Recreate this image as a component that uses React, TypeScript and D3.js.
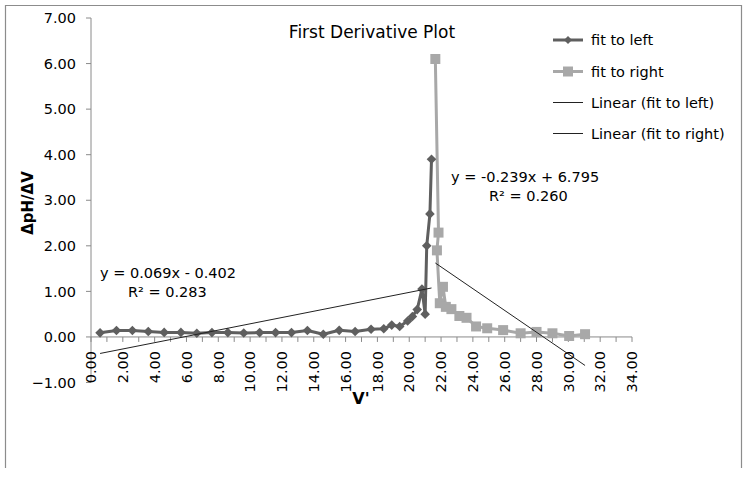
import React from 'react';
import * as d3 from 'd3';

// ---- data ----
const leftX = [0.57, 1.6, 2.6, 3.6, 4.6, 5.65, 6.65, 7.6, 8.6, 9.6, 10.6, 11.6, 12.6, 13.6, 14.6, 15.6, 16.6, 17.6, 18.4, 18.9, 19.4, 19.9, 20.2, 20.5, 20.8, 21.0, 21.1, 21.3, 21.4];
const leftY = [0.09, 0.14, 0.14, 0.12, 0.1, 0.1, 0.08, 0.095, 0.095, 0.088, 0.095, 0.095, 0.095, 0.14, 0.06, 0.145, 0.12, 0.17, 0.18, 0.26, 0.23, 0.35, 0.45, 0.6, 1.05, 0.5, 2.0, 2.7, 3.9];
const rightX = [21.64, 21.84, 21.74, 21.92, 22.12, 22.3, 22.65, 23.15, 23.6, 24.2, 24.9, 25.9, 27.0, 28.0, 29.0, 30.05, 31.05];
const rightY = [6.1, 2.29, 1.9, 0.74, 1.1, 0.66, 0.61, 0.46, 0.42, 0.23, 0.19, 0.15, 0.08, 0.11, 0.08, 0.02, 0.06];
const leftTrend = [0.069, -0.402]; // slope, intercept
const rightTrend = [-0.239, 6.795];
const xTickValues = [0, 2, 4, 6, 8, 10, 12, 14, 16, 18, 20, 22, 24, 26, 28, 30, 32, 34];
const xMinorValues = d3.range(0, 35, 1);
const yTickValues = [-1, 0, 1, 2, 3, 4, 5, 6, 7];
const legendLabels = ['fit to left', 'fit to right', 'Linear (fit to left)', 'Linear (fit to right)'];
const leftEqLabels = ['y = 0.069x - 0.402', 'R² = 0.283'];
const rightEqLabels = ['y = -0.239x + 6.795', 'R² = 0.260'];

const W = 748;
const H = 477;
const FONT = "'DejaVu Sans', sans-serif";
const DARK = '#5f5f5f';
const LIGHT = '#a8a8a8';
const AXIS = '#8a8a8a';

export default function App() {
  const x = d3.scaleLinear().domain([0, 34]).range([91, 632]);
  const y = d3.scaleLinear().domain([-1, 7]).range([382.5, 18]);
  const fmt = d3.format('.2f');

  const leftPts = leftX.map((v, i) => [v, leftY[i]] as [number, number]);
  const rightPts = rightX.map((v, i) => [v, rightY[i]] as [number, number]);
  const line = d3.line<[number, number]>().x(d => x(d[0])).y(d => y(d[1]));

  const lx0 = d3.min(leftX)!, lx1 = d3.max(leftX)!;
  const rx0 = d3.min(rightX)!, rx1 = d3.max(rightX)!;
  const leftTrendPts: [number, number][] = [lx0, lx1].map(v => [v, leftTrend[0] * v + leftTrend[1]]);
  const rightTrendPts: [number, number][] = [rx0, rx1].map(v => [v, rightTrend[0] * v + rightTrend[1]]);

  const diamond = (r: number) => `M0,${-r}L${r},0L0,${r}L${-r},0Z`;
  const square = (r: number) => `M${-r},${-r}H${r}V${r}H${-r}Z`;

  const legendY = [40, 71.5, 102.5, 133.5];
  const lgX0 = 553, lgX1 = 583;

  return (
    <svg width={W} height={H} style={{ position: 'fixed', left: 0, top: 0, background: '#fff' }} fontFamily={FONT}>
      <rect x={0} y={0} width={W} height={H} fill="#fff" />
      {/* chart frame (bottom edge cut off) */}
      <path d={`M5.5,468V5.5H741.5V468`} fill="none" stroke="#8c8c8c" strokeWidth={1.2} />

      <text x={372} y={38} textAnchor="middle" fontSize={17} fill="#000">First Derivative Plot</text>

      {/* y axis */}
      <line x1={x(0)} x2={x(0)} y1={y(7)} y2={y(-1)} stroke={AXIS} strokeWidth={1} />
      {yTickValues.map(v => (
        <g key={'yt' + v}>
          <line x1={x(0) - 5} x2={x(0)} y1={y(v)} y2={y(v)} stroke={AXIS} />
          <text x={76} y={y(v)} dy="0.36em" textAnchor="end" fontSize={14.5} fill="#000">{fmt(v)}</text>
        </g>
      ))}

      {/* x axis at y = 0 */}
      <line x1={x(0)} x2={x(34)} y1={y(0)} y2={y(0)} stroke={AXIS} strokeWidth={1} />
      {xMinorValues.map(v => (
        <line key={'xm' + v} x1={x(v)} x2={x(v)} y1={y(0)} y2={y(0) + 5} stroke={AXIS} />
      ))}
      {xTickValues.map(v => (
        <text key={'xt' + v} transform={`translate(${x(v)},${351}) rotate(-90)`} dy="0.36em" textAnchor="end" fontSize={14.5} fill="#000">{fmt(v)}</text>
      ))}

      <text x={361} y={404} textAnchor="middle" fontSize={16} fontWeight="bold" fill="#000">V'</text>
      <text transform={`translate(33,203) rotate(-90)`} textAnchor="middle" fontSize={15} fontWeight="bold" fill="#000">ΔpH/ΔV</text>

      {/* series: fit to right */}
      <path d={line(rightPts)!} fill="none" stroke={LIGHT} strokeWidth={3} strokeLinejoin="round" />
      {rightPts.map((p, i) => (
        <path key={'rs' + i} d={square(5)} transform={`translate(${x(p[0])},${y(p[1])})`} fill={LIGHT} />
      ))}

      {/* series: fit to left */}
      <path d={line(leftPts)!} fill="none" stroke={DARK} strokeWidth={3} strokeLinejoin="round" />
      {leftPts.map((p, i) => (
        <path key={'ls' + i} d={diamond(4.8)} transform={`translate(${x(p[0])},${y(p[1])})`} fill={DARK} />
      ))}

      {/* trend lines */}
      <path d={line(leftTrendPts)!} fill="none" stroke="#222" strokeWidth={1} />
      <path d={line(rightTrendPts)!} fill="none" stroke="#222" strokeWidth={1} />

      {/* equations */}
      <text x={100} y={278} fontSize={14.5} fill="#000">{leftEqLabels[0]}</text>
      <text x={128} y={297} fontSize={14.5} fill="#000">{leftEqLabels[1]}</text>
      <text x={451} y={182} fontSize={14.5} fill="#000">{rightEqLabels[0]}</text>
      <text x={489} y={201} fontSize={14.5} fill="#000">{rightEqLabels[1]}</text>

      {/* legend */}
      <g>
        <line x1={lgX0} x2={lgX1} y1={legendY[0]} y2={legendY[0]} stroke={DARK} strokeWidth={3} />
        <path d={diamond(4)} transform={`translate(${(lgX0 + lgX1) / 2},${legendY[0]})`} fill={DARK} />
        <line x1={lgX0} x2={lgX1} y1={legendY[1]} y2={legendY[1]} stroke={LIGHT} strokeWidth={3} />
        <path d={square(5)} transform={`translate(${(lgX0 + lgX1) / 2},${legendY[1]})`} fill={LIGHT} />
        <line x1={lgX0} x2={lgX1} y1={legendY[2]} y2={legendY[2]} stroke="#222" strokeWidth={1} />
        <line x1={lgX0} x2={lgX1} y1={legendY[3]} y2={legendY[3]} stroke="#222" strokeWidth={1} />
        {legendLabels.map((t, i) => (
          <text key={'lg' + i} x={591} y={legendY[i]} dy="0.36em" fontSize={14.5} fill="#000">{t}</text>
        ))}
      </g>
    </svg>
  );
}
